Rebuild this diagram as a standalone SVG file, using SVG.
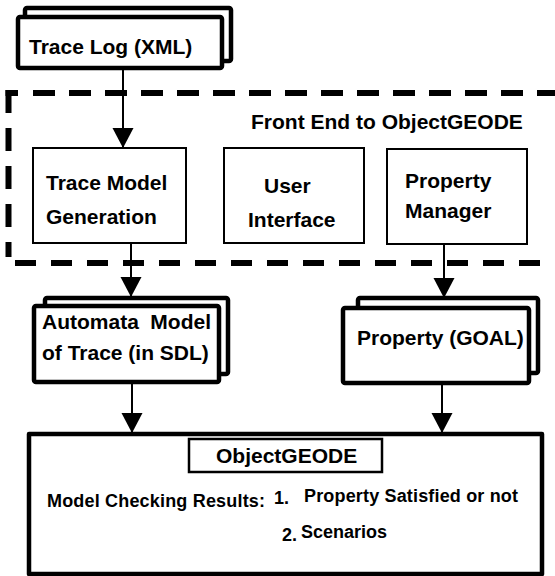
<svg xmlns="http://www.w3.org/2000/svg" width="555" height="576" viewBox="0 0 555 576">
<defs>
<marker id="ah" markerUnits="userSpaceOnUse" markerWidth="22" markerHeight="22" viewBox="0 0 22 22" refX="20" refY="11" orient="auto">
<path d="M0,0.5 L20,11 L0,21.5 Z" fill="#000"/>
</marker>
</defs>
<style>
text{font-family:"Liberation Sans",Arial,sans-serif;font-weight:bold;fill:#000}
.t21{font-size:21px}
.t18{font-size:18px}
.thin{fill:#fff;stroke:#000;stroke-width:2}
.thick{fill:#fff;stroke:#000;stroke-width:4.5;stroke-linejoin:round}
.dash{fill:none;stroke:#000;stroke-width:6}
.conn{fill:none;stroke:#000;stroke-width:2;marker-end:url(#ah)}
</style>
<rect width="555" height="576" fill="#fff"/>

<g id="frontend">
<path class="dash" d="M33,93 H560" stroke-dasharray="22 14"/>
<path class="dash" d="M15,263 H560" stroke-dasharray="21 15"/>
<path class="dash" d="M8.5,90 V257" stroke-dasharray="23 15"/>
<path class="dash" d="M5.5,93 H18"/>
<text class="t21" x="251" y="129">Front End to ObjectGEODE</text>
</g>

<g id="tracelog">
<rect class="thick" x="25" y="8" width="206" height="53" rx="2"/>
<rect class="thick" x="18" y="17" width="204" height="51" rx="2"/>
<text class="t21" x="29" y="54">Trace Log (XML)</text>
</g>

<g id="tracemodel">
<rect class="thin" x="33" y="148" width="153" height="95"/>
<text class="t21" x="46" y="190">Trace Model</text>
<text class="t21" x="46" y="224">Generation</text>
</g>

<g id="userinterface">
<rect class="thin" x="224" y="148" width="140" height="95"/>
<text class="t21" x="264" y="193">User</text>
<text class="t21" x="248" y="227">Interface</text>
</g>

<g id="propertymanager">
<rect class="thin" x="387" y="149" width="140" height="95"/>
<text class="t21" x="405" y="188">Property</text>
<text class="t21" x="405" y="218">Manager</text>
</g>

<g id="automata">
<rect class="thick" x="45" y="298" width="183" height="76" rx="2"/>
<rect class="thick" x="34" y="306" width="185" height="76" rx="2"/>
<text class="t21" x="42" y="329">Automata</text>
<text class="t21" x="211" y="329" text-anchor="end">Model</text>
<text class="t21" x="42" y="360">of Trace (in SDL)</text>
</g>

<g id="property">
<rect class="thick" x="358" y="298" width="180" height="75" rx="2"/>
<rect class="thick" x="343" y="308" width="186" height="75" rx="2"/>
<text class="t21" x="357" y="345">Property (GOAL)</text>
</g>

<g id="objectgeode">
<rect class="thick" x="29" y="434" width="513" height="140"/>
<rect fill="#fff" stroke="#000" stroke-width="2.5" x="189" y="439" width="193" height="33"/>
<text class="t21" x="216" y="463">ObjectGEODE</text>
<text class="t18" x="47" y="507" textLength="218">Model Checking Results:</text>
<text class="t18" x="274" y="504">1.</text>
<text class="t18" x="304" y="502" textLength="214">Property Satisfied or not</text>
<text class="t18" x="282" y="541">2.</text>
<text class="t18" x="301" y="538">Scenarios</text>
</g>

<g id="connectors">
<path class="conn" d="M123,68 V148"/>
<path class="conn" d="M131,243 V297"/>
<path class="conn" d="M444,244 V298"/>
<path class="conn" d="M132,382 V433"/>
<path class="conn" d="M442,383 V433"/>
</g>
</svg>
